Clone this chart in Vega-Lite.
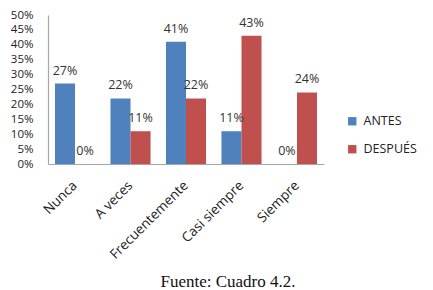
{
  "$schema": "https://vega.github.io/schema/vega-lite/v6.json",
  "width": 276,
  "height": 149,
  "autosize": "none",
  "padding": {"left": 48, "top": 15, "right": 109, "bottom": 126},
  "background": "white",
  "config": {
    "view": {"stroke": null},
    "font": "Open Sans"
  },
  "title": {
    "text": "Fuente: Cuadro 4.2.",
    "orient": "bottom",
    "anchor": "middle",
    "dx": 42,
    "offset": 13,
    "font": "Liberation Serif",
    "fontSize": 17,
    "fontWeight": "normal",
    "color": "#111111"
  },
  "data": {
    "values": [
      {"categoria": "Nunca", "grupo": "ANTES", "valor": 0.27},
      {"categoria": "Nunca", "grupo": "DESPUÉS", "valor": 0.0},
      {"categoria": "A veces", "grupo": "ANTES", "valor": 0.22},
      {"categoria": "A veces", "grupo": "DESPUÉS", "valor": 0.11},
      {"categoria": "Frecuentemente", "grupo": "ANTES", "valor": 0.41},
      {"categoria": "Frecuentemente", "grupo": "DESPUÉS", "valor": 0.22},
      {"categoria": "Casi siempre", "grupo": "ANTES", "valor": 0.11},
      {"categoria": "Casi siempre", "grupo": "DESPUÉS", "valor": 0.43},
      {"categoria": "Siempre", "grupo": "ANTES", "valor": 0.0},
      {"categoria": "Siempre", "grupo": "DESPUÉS", "valor": 0.24}
    ]
  },
  "encoding": {
    "x": {
      "field": "categoria",
      "type": "nominal",
      "sort": ["Nunca", "A veces", "Frecuentemente", "Casi siempre", "Siempre"],
      "scale": {"paddingInner": 0.278, "paddingOuter": 0.126},
      "axis": {
        "title": null,
        "labelAngle": -45,
        "labelAlign": "right",
        "labelBaseline": "middle",
        "labelPadding": 19,
        "labelFontSize": 13.5,
        "labelColor": "#222222",
        "ticks": false,
        "domainColor": "#a6a6a6",
        "domainWidth": 1.2
      }
    },
    "xOffset": {"field": "grupo", "sort": ["ANTES", "DESPUÉS"]},
    "y": {
      "field": "valor",
      "type": "quantitative",
      "scale": {"domain": [0, 0.5], "nice": false},
      "axis": {
        "title": null,
        "format": ".0%",
        "values": [0, 0.05, 0.1, 0.15, 0.2, 0.25, 0.3, 0.35, 0.4, 0.45, 0.5],
        "grid": false,
        "ticks": false,
        "labelPadding": 15,
        "labelFontSize": 11.5,
        "labelColor": "#222222",
        "labelOverlap": false,
        "domainColor": "#a6a6a6",
        "domainWidth": 1.2
      }
    }
  },
  "layer": [
    {
      "mark": {"type": "bar"},
      "encoding": {
        "color": {
          "field": "grupo",
          "type": "nominal",
          "sort": ["ANTES", "DESPUÉS"],
          "scale": {"domain": ["ANTES", "DESPUÉS"], "range": ["#4F81BD", "#C0504D"]},
          "legend": {
            "title": null,
            "orient": "none",
            "legendX": 298,
            "legendY": 100,
            "symbolType": "square",
            "symbolSize": 70,
            "symbolStrokeWidth": 0,
            "labelFontSize": 12.5,
            "labelColor": "#222222",
            "rowPadding": 15,
            "labelOffset": 5
          }
        }
      }
    },
    {
      "mark": {"type": "text", "baseline": "bottom", "dy": -6, "fontSize": 12.5, "color": "#333333"},
      "encoding": {
        "text": {"field": "valor", "type": "quantitative", "format": ".0%"}
      }
    }
  ]
}
